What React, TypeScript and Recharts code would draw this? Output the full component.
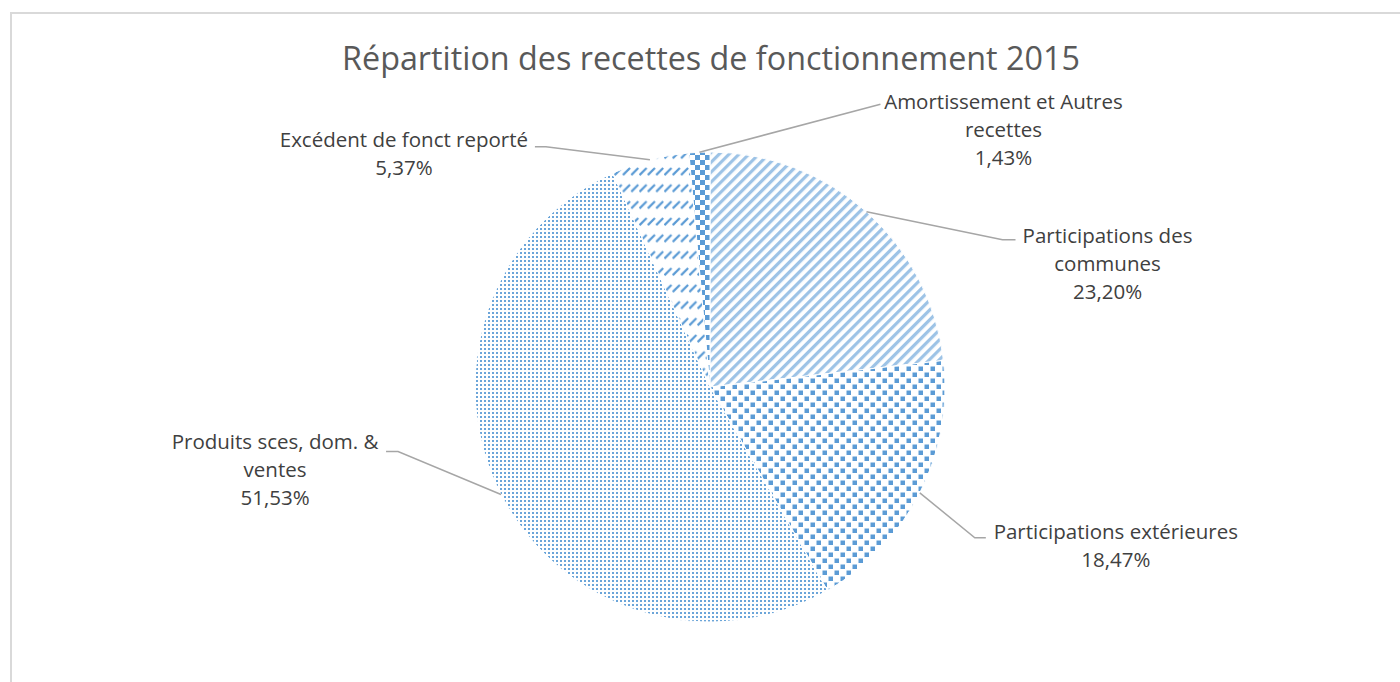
import { PieChart, Pie, Cell } from 'recharts';

// slices in Excel order, clockwise from 12 o'clock
const categories = [
  'Participations des\ncommunes',
  'Participations extérieures',
  'Produits sces, dom. &\nventes',
  'Excédent de fonct reporté',
  'Amortissement et Autres\nrecettes',
];
const shares = [23.2, 18.47, 51.53, 5.37, 1.43];
const patternIds = ['pStripes', 'pConfetti', 'pDots', 'pDashes', 'pChecker'];

// leader line elbow (from slice edge), tail length, text centre offset
const labelLayout = [
  { dx: 136, dy: 28, tail: 13, tx: 92, ty: -5 },
  { dx: 55, dy: 45, tail: 11, tx: 130, ty: -7 },
  { dx: -103, dy: -43, tail: -12, tx: -111, ty: -11 },
  { dx: -104, dy: -13, tail: -11, tx: -131, ty: -8 },
  { dx: 181, dy: -48, tail: 0, tx: 123, ty: -3 },
];

const data = categories.map((name, i) => ({ name, value: shares[i] }));

const RAD = Math.PI / 180;
const FONT = '"Open Sans", sans-serif';

function renderLabel(props: any) {
  const { cx, cy, midAngle, outerRadius, percent, index } = props;
  const lay = labelLayout[index];
  const sx = cx + outerRadius * Math.cos(-midAngle * RAD);
  const sy = cy + outerRadius * Math.sin(-midAngle * RAD);
  const ex = sx + lay.dx;
  const ey = sy + lay.dy;
  const tx = ex + lay.tail;
  const lines = [...categories[index].split('\n'), `${(percent * 100).toFixed(2).replace('.', ',')}%`];
  return (
    <g key={`lbl-${index}`}>
      <polyline
        points={`${sx},${sy} ${ex},${ey} ${tx},${ey}`}
        fill="none"
        stroke="#a6a6a6"
        strokeWidth={1.5}
      />
      <text
        x={tx + lay.tx}
        y={ey + lay.ty}
        textAnchor="middle"
        fill="#404040"
        fontSize={20.5}
        fontFamily={FONT}
      >
        {lines.map((l, k) => (
          <tspan key={k} x={tx + lay.tx} y={ey + lay.ty + k * 28} dominantBaseline="central">
            {l}
          </tspan>
        ))}
      </text>
    </g>
  );
}

export default function App() {
  return (
    <div
      style={{
        position: 'absolute',
        left: 0,
        top: 0,
        width: 1400,
        height: 682,
        overflow: 'hidden',
        background: '#fff',
      }}
    >
      <div
        style={{
          position: 'absolute',
          left: 10,
          top: 12,
          width: 1420,
          height: 720,
          border: '2px solid #d9d9d9',
        }}
      />
      <div
        style={{
          position: 'absolute',
          left: 0,
          top: 35,
          width: 1422,
          textAlign: 'center',
          fontFamily: FONT,
          fontSize: 32.3,
          color: '#595959',
        }}
      >
        Répartition des recettes de fonctionnement 2015
      </div>
      <div style={{ position: 'absolute', left: 0, top: 0 }}>
        <PieChart width={1400} height={682}>
          <defs>
            <pattern id="pStripes" width={7} height={7} patternUnits="userSpaceOnUse" patternTransform="rotate(45)">
              <rect x={0} y={0} width={7} height={7} fill="#fff" />
              <rect x={0} y={0} width={3.2} height={7} fill="#9dc3e6" />
            </pattern>
            <pattern id="pConfetti" width={12} height={12} patternUnits="userSpaceOnUse">
              <rect x={0} y={0} width={12} height={12} fill="#fff" />
              <rect x={0.5} y={0.5} width={4.5} height={4.5} fill="#5b9bd5" />
              <rect x={6.5} y={6.5} width={4.5} height={4.5} fill="#5b9bd5" />
            </pattern>
            <pattern id="pDots" width={4} height={4} patternUnits="userSpaceOnUse">
              <rect x={0} y={0} width={4} height={4} fill="#fff" />
              <rect x={0} y={0} width={2} height={2} fill="#5b9bd5" opacity={0.9} />
            </pattern>
            <pattern id="pDashes" width={8.3} height={16.7} patternUnits="userSpaceOnUse">
              <rect x={0} y={0} width={8.3} height={16.7} fill="#fff" />
              <line x1={0.5} y1={8} x2={7.5} y2={1} stroke="#5b9bd5" strokeWidth={2.2} />
            </pattern>
            <pattern id="pChecker" width={10} height={10} patternUnits="userSpaceOnUse">
              <rect x={0} y={0} width={10} height={10} fill="#fff" />
              <rect x={0} y={0} width={5} height={5} fill="#5b9bd5" />
              <rect x={5} y={5} width={5} height={5} fill="#5b9bd5" />
            </pattern>
          </defs>
          <Pie
            data={data}
            dataKey="value"
            nameKey="name"
            cx={705}
            cy={382}
            outerRadius={235}
            startAngle={90}
            endAngle={-270}
            stroke="#fff"
            strokeWidth={1}
            labelLine={false}
            label={renderLabel}
            isAnimationActive={false}
          >
            {data.map((d, i) => (
              <Cell key={d.name} fill={`url(#${patternIds[i]})`} />
            ))}
          </Pie>
        </PieChart>
      </div>
    </div>
  );
}
